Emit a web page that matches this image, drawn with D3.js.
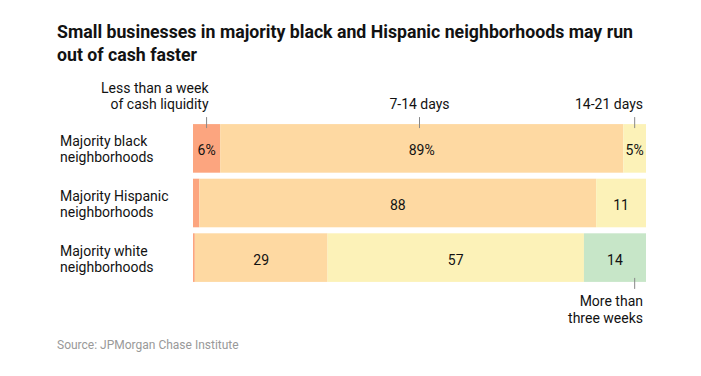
<!DOCTYPE html>
<html>
<head>
<meta charset="utf-8">
<script src="https://cdn.jsdelivr.net/npm/d3@7"></script>
<style>
  body { margin: 0; background: #fff; }
  svg text { font-family: Roboto, "Liberation Sans", sans-serif; fill: #121212; }
</style>
</head>
<body>
<svg width="701" height="376"></svg>
<script>
var svg = d3.select("svg");

// data
var groups = ["Majority black|neighborhoods", "Majority Hispanic|neighborhoods", "Majority white|neighborhoods"];
var bands = ["lt1", "d7_14", "d14_21", "gt21"];
var black = [6, 89, 5, 0];
var hispanic = [1.4, 87.6, 11, 0];
var white = [0.4, 29.3, 56.6, 13.7];
var labels = [["6%", "89%", "5%", ""], ["", "88", "11", ""], ["", "29", "57", "14"]];
var colors = ["#fca57f", "#fed9a2", "#fcf2b8", "#c7e6c8"];
var notes = [
  { lines: ["Less than a week", "of cash liquidity"], at: 3, anchor: "end", side: "top" },
  { lines: ["7-14 days"], at: 50, anchor: "middle", side: "top" },
  { lines: ["14-21 days"], at: 97.5, anchor: "end", side: "top" },
  { lines: ["More than", "three weeks"], at: 97.5, anchor: "end", side: "bottom" }
];

var rows = [black, hispanic, white];

var x = d3.scaleLinear().domain([0, 100]).range([193, 646]);
var y = d3.scaleBand().domain(groups).range([123, 283]).paddingInner(0.11).paddingOuter(0.02);

// title
var title = svg.append("text")
    .attr("x", 57)
    .attr("y", 38)
    .style("font-size", "18px")
    .style("font-weight", "700");
title.append("tspan").attr("x", 57).text("Small businesses in majority black and Hispanic neighborhoods may run");
title.append("tspan").attr("x", 57).attr("dy", 23).text("out of cash faster");
var ratio = 576 / title.select("tspan").node().getComputedTextLength();
title.selectAll("tspan").each(function() {
  var w = this.getComputedTextLength();
  d3.select(this).attr("textLength", w * ratio).attr("lengthAdjust", "spacingAndGlyphs");
});

// rows
rows.forEach(function(vals, i) {
  var g = svg.append("g").attr("class", "row");
  var stack = [];
  var acc = 0;
  vals.forEach(function(v, j) {
    stack.push({ x0: acc, x1: acc + v, band: bands[j], color: colors[j], label: labels[i][j] });
    acc += v;
  });
  g.selectAll("rect")
    .data(stack.filter(function(d) { return d.x1 > d.x0; }))
    .enter().append("rect")
    .attr("x", function(d) { return x(d.x0); })
    .attr("width", function(d) { return x(d.x1) - x(d.x0); })
    .attr("y", y(groups[i]))
    .attr("height", y.bandwidth())
    .attr("fill", function(d) { return d.color; });
  g.selectAll("text.val")
    .data(stack.filter(function(d) { return d.label; }))
    .enter().append("text")
    .attr("class", "val")
    .attr("x", function(d) { return (x(d.x0) + x(d.x1)) / 2; })
    .attr("y", y(groups[i]) + y.bandwidth() / 2 + 7)
    .attr("text-anchor", "middle")
    .style("font-size", "14px")
    .text(function(d) { return d.label; });

  // category label
  var lab = svg.append("text")
    .attr("x", 60)
    .attr("y", y(groups[i]) + y.bandwidth() / 2 - 2)
    .style("font-size", "14px");
  groups[i].split("|").forEach(function(s, k) {
    lab.append("tspan").attr("x", 60).attr("dy", k ? 16 : 0).text(s);
  });
});

// annotations
var barTop = y(groups[0]), barBottom = y(groups[2]) + y.bandwidth();
notes.forEach(function(n) {
  var px = x(n.at);
  var tx = px;
  if (n.anchor == "end") tx = n.at > 90 ? x(100) - 3 : px + 2;
  var ng = svg.append("g").attr("class", "note");
  var y1 = n.side == "top" ? barTop - 7 : barBottom - 4;
  ng.append("line")
    .attr("x1", px).attr("x2", px)
    .attr("y1", y1).attr("y2", y1 + 11)
    .attr("stroke", "#888").attr("stroke-width", 1);
  var t = ng.append("text")
    .attr("text-anchor", n.anchor)
    .style("font-size", "14px");
  n.lines.forEach(function(s, k) {
    var ty = n.side == "top"
      ? barTop - 15 - (n.lines.length - 1 - k) * 16
      : barBottom + 24 + k * 17;
    t.append("tspan").attr("x", tx).attr("y", ty).text(s);
  });
});

// source
svg.append("text")
  .attr("x", 57)
  .attr("y", 349)
  .style("font-size", "12px")
  .style("fill", "#999")
  .text("Source: JPMorgan Chase Institute");
</script>
</body>
</html>
